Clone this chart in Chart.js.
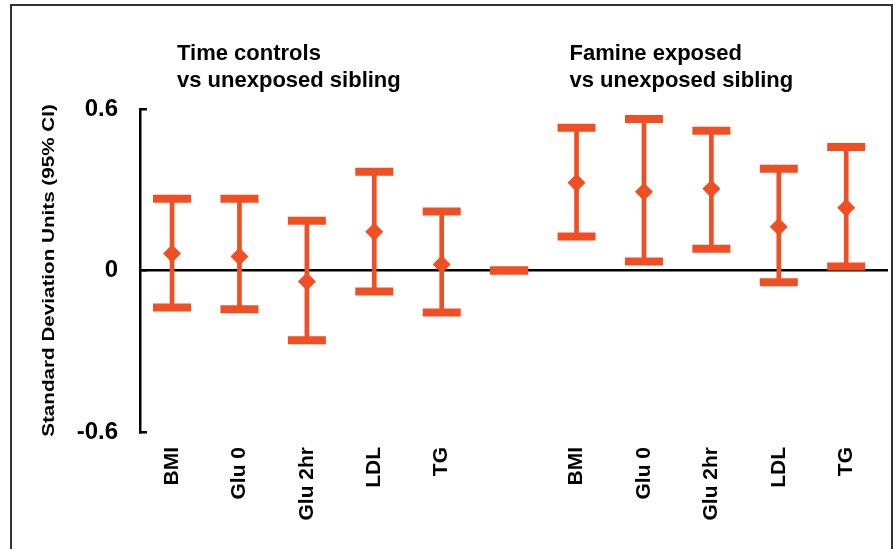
<!DOCTYPE html>
<html>
<head>
<meta charset="utf-8">
<script src="https://cdn.jsdelivr.net/npm/chart.js@4.4.1/dist/chart.umd.min.js"></script>
<style>
  html, body { margin: 0; padding: 0; background: #fff; overflow: hidden; }
  #wrap { position: relative; width: 893px; height: 549px; }
  #frame {
    position: absolute; left: 10px; top: 4px; width: 883px; height: 600px;
    box-sizing: border-box; border: 2px solid #333;
  }
  #chart { position: absolute; left: 0; top: 0; }
</style>
</head>
<body>
<div id="wrap">
  <div id="frame"></div>
  <canvas id="chart" width="893" height="549"></canvas>
</div>
<script>
// categories (empty slot separates the two comparisons)
const categories = ['BMI', 'Glu 0', 'Glu 2hr', 'LDL', 'TG', '', 'BMI', 'Glu 0', 'Glu 2hr', 'LDL', 'TG'];
const means   = [0.063, 0.052, -0.041, 0.144, 0.022, null, 0.326, 0.293, 0.304, 0.163, 0.233];
const lowerCI = [-0.137, -0.144, -0.259, -0.078, -0.156, 0, 0.126, 0.033, 0.081, -0.044, 0.015];
const upperCI = [0.267, 0.267, 0.185, 0.367, 0.219, 0, 0.530, 0.563, 0.519, 0.378, 0.459];
const yTicks  = [-0.6, 0, 0.6];
const groupTitles = [
  ['Time controls', 'vs unexposed sibling'],
  ['Famine exposed', 'vs unexposed sibling']
];
const groupStart = [0, 6];
const yTitle = 'Standard Deviation Units (95% CI)';

const RED = '#F04E23';
const FONT = '"Liberation Sans", Arial, Helvetica, sans-serif';
Chart.defaults.font.family = FONT;
Chart.defaults.color = '#000';

const textPlugin = {
  id: 'textPlugin',
  afterDraw(chart) {
    const ctx = chart.ctx;
    const xs = chart.scales.x;
    const ys = chart.scales.y;

    ctx.save();
    ctx.fillStyle = '#000';
    ctx.font = 'bold 22px ' + FONT;
    ctx.textAlign = 'left';
    ctx.textBaseline = 'alphabetic';
    groupTitles.forEach((lines, g) => {
      const x = xs.getPixelForValue(groupStart[g]) + (g === 0 ? 5 : -7);
      lines.forEach((t, i) => ctx.fillText(t, x, 60 + i * 27));
    });
    ctx.restore();

    // y axis title, stretched along its length like the original
    ctx.save();
    ctx.fillStyle = '#000';
    ctx.font = 'bold 16px ' + FONT;
    ctx.textAlign = 'center';
    ctx.textBaseline = 'middle';
    ctx.translate(50, (ys.top + ys.bottom) / 2);
    ctx.rotate(-Math.PI / 2);
    ctx.scale(1.29, 1);
    ctx.fillText(yTitle, 0, 0);
    ctx.restore();
  }
};

new Chart(document.getElementById('chart'), {
  type: 'bar',
  data: {
    datasets: [
      {
        type: 'line',
        label: 'Mean',
        data: means.map((v, i) => ({ x: i, y: v })),
        showLine: false,
        pointStyle: 'rectRot',
        pointRadius: 9,
        pointBackgroundColor: RED,
        pointBorderWidth: 0,
        order: 0
      },
      {
        type: 'line',
        label: 'Upper CI',
        data: upperCI.map((v, i) => ({ x: i, y: v })),
        showLine: false,
        pointStyle: 'line',
        pointRadius: 19,
        pointBorderColor: RED,
        pointBorderWidth: 8,
        order: 1
      },
      {
        type: 'line',
        label: 'Lower CI',
        data: lowerCI.map((v, i) => ({ x: i, y: v })),
        showLine: false,
        pointStyle: 'line',
        pointRadius: 19,
        pointBorderColor: RED,
        pointBorderWidth: 8,
        order: 2
      },
      {
        type: 'bar',
        label: 'CI',
        data: lowerCI.map((v, i) => ({ x: i, y: [v, upperCI[i]] })),
        backgroundColor: RED,
        barThickness: 4,
        order: 3
      }
    ]
  },
  options: {
    responsive: false,
    animation: false,
    layout: { autoPadding: false, padding: { top: 109, right: 5, left: 0, bottom: 0 } },
    plugins: { legend: { display: false }, tooltip: { enabled: false } },
    scales: {
      x: {
        type: 'linear',
        offset: false,
        min: -0.475,
        max: 10.62,
        afterBuildTicks: s => { s.ticks = categories.map((c, i) => ({ value: i })); },
        afterFit: s => { s.height = 117; s.paddingLeft = 0; s.paddingRight = 0; },
        grid: { display: false },
        border: { display: false },
        ticks: {
          autoSkip: false,
          minRotation: 90,
          maxRotation: 90,
          padding: 7,
          font: { size: 21, weight: 'bold' },
          callback: v => categories[v]
        }
      },
      y: {
        min: -0.6,
        max: 0.6,
        afterBuildTicks: s => { s.ticks = yTicks.map(v => ({ value: v })); },
        afterFit: s => { s.width = 140; },
        border: { display: true, color: '#000', width: 2.5 },
        grid: {
          color: c => (c.tick && c.tick.value === 0 ? '#000' : 'rgba(0,0,0,0)'),
          lineWidth: 2.5,
          tickColor: '#000',
          tickWidth: 2.5,
          tickLength: -7
        },
        ticks: {
          padding: 29,
          font: { size: 24, weight: 'bold' },
          callback: v => (v === 0 ? '0' : String(v))
        }
      }
    }
  },
  plugins: [textPlugin]
});
</script>
</body>
</html>
